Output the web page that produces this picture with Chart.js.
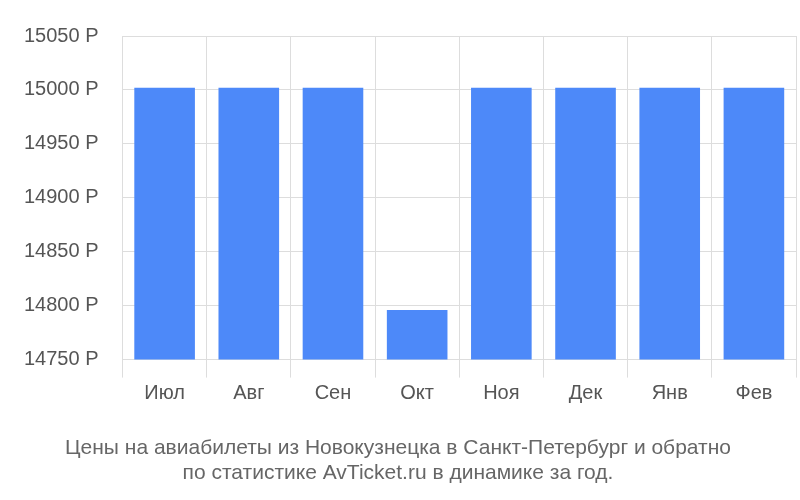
<!DOCTYPE html>
<html><head><meta charset="utf-8">
<script src="https://cdn.jsdelivr.net/npm/chart.js@4/dist/chart.umd.min.js"></script>
<style>html,body{margin:0;padding:0;background:#fff}#w{width:800px;height:500px}</style>
</head><body><div id="w"><canvas id="c"></canvas></div>
<script>
const categories = ["Июл","Авг","Сен","Окт","Ноя","Дек","Янв","Фев"];
const prices = [15002,15002,15002,14796,15002,15002,15002,15002];
const titleLines = ["Цены на авиабилеты из Новокузнецка в Санкт-Петербург и обратно","по статистике AvTicket.ru в динамике за год."];
new Chart(document.getElementById('c'),{
  type:'bar',
  data:{labels:categories,datasets:[{data:prices,backgroundColor:'#4d89f9',barPercentage:0.72,categoryPercentage:1}]},
  options:{
    responsive:true,maintainAspectRatio:false,animation:false,
    layout:{padding:{left:0,right:4,top:0,bottom:14}},
    plugins:{legend:{display:false},tooltip:{enabled:false},
      title:{display:true,position:'bottom',text:titleLines,color:'#666',font:{family:'Liberation Sans, Arial',size:21,weight:'normal'},padding:{top:26,bottom:0},lineHeight:1.3}},
    scales:{
      x:{grid:{offset:true,color:'#ddd',tickLength:18},border:{display:false},
         ticks:{color:'#555',font:{family:'Liberation Sans, Arial',size:20},padding:4}},
      y:{min:14750,max:15050,grid:{color:'#ddd',tickLength:0},border:{display:false},
         ticks:{stepSize:50,color:'#555',font:{family:'Liberation Sans, Arial',size:20},padding:24,callback:v=>v+' Р'}}
    }
  }
});
</script></body></html>
